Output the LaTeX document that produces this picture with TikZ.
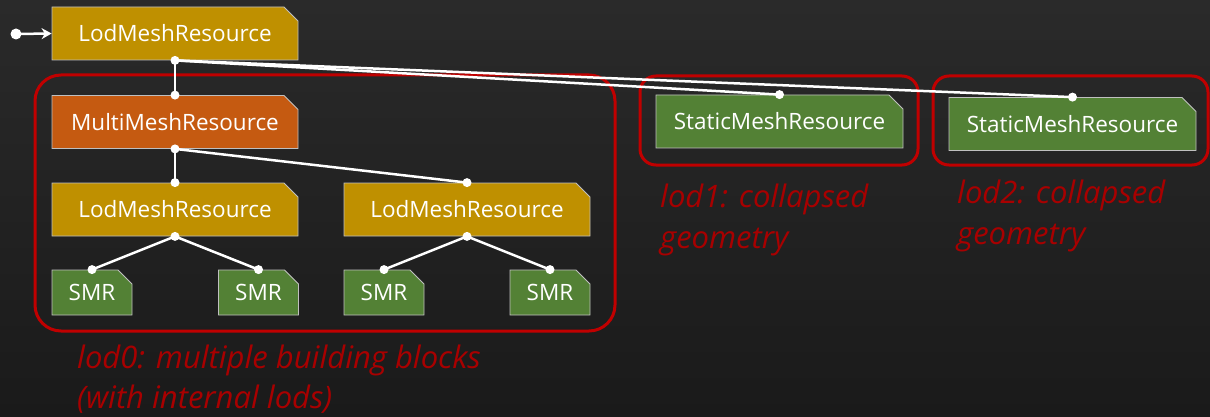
\documentclass[tikz,border=0pt]{standalone}
\usepackage{fontspec}
\setmainfont{Open Sans}
\usetikzlibrary{shapes.misc,arrows.meta}
\definecolor{bgtop}{HTML}{2A2A2A}
\definecolor{bgbot}{HTML}{1A1A1A}
\definecolor{gold}{HTML}{BF9000}
\definecolor{rust}{HTML}{C55A11}
\definecolor{leaf}{HTML}{538135}
\definecolor{frame}{HTML}{C00000}
\definecolor{note}{HTML}{A80000}
\tikzset{
  res/.style={chamfered rectangle, chamfered rectangle corners=north east,
    chamfered rectangle xsep=7pt, chamfered rectangle ysep=7pt,
    draw=white!75!black, line width=0.8pt, text=white, inner sep=0pt,
    font=\fontsize{22.5}{26}\selectfont, minimum height=53pt},
  big/.style={res, minimum width=246pt},
  small/.style={res, minimum width=80pt, minimum height=45pt},
  conn/.style={draw=white, line width=2.5pt},
  dot/.style={fill=white},
  grp/.style={draw=frame, line width=3pt, rounded corners=26pt},
  lbl/.style={text=note, font=\fontsize{31}{34}\selectfont\itshape, anchor=base west, inner sep=0pt}
}
\begin{document}
\begin{tikzpicture}[x=1pt,y=-1pt]
\shade[top color=bgtop, bottom color=bgbot] (0,0) rectangle (1210,417);
\useasboundingbox (0,0) rectangle (1210,417);

% groups
\draw[grp] (35,75) rectangle (615,331);
\draw[grp, rounded corners=16pt] (640,76) rectangle (918,165);
\draw[grp, rounded corners=16pt] (933,76) rectangle (1208,165);

% nodes
\node[big, fill=gold] (top) at (175,33.5) {LodMeshResource};
\node[big, fill=rust] (mm) at (175,122) {MultiMeshResource};
\node[big, fill=gold] (la) at (175,209.5) {LodMeshResource};
\node[big, fill=gold] (lb) at (467,209.5) {LodMeshResource};
\node[small, fill=leaf] (s1) at (92,292.5) {SMR};
\node[small, fill=leaf] (s2) at (258.5,292.5) {SMR};
\node[small, fill=leaf] (s3) at (384,292.5) {SMR};
\node[small, fill=leaf] (s4) at (550,292.5) {SMR};
\node[big, fill=leaf, minimum width=247pt] (st1) at (779.5,121.5) {StaticMeshResource};
\node[big, fill=leaf, minimum width=247pt] (st2) at (1072.5,124) {StaticMeshResource};

% entry
\coordinate (entry) at (16,34);
\draw[conn, -{Stealth[length=10pt,width=11pt]}] (entry) -- (top.west);
\fill[dot] (entry) circle (5.5pt);

% connectors
\draw[conn] (top.south) -- (mm.north);
\draw[conn] (top.south) -- (st1.north);
\draw[conn] (top.south) -- (st2.north);
\draw[conn] (mm.south) -- (la.north);
\draw[conn] (mm.south) -- (lb.north);
\draw[conn] (la.south) -- (s1.north);
\draw[conn] (la.south) -- (s2.north);
\draw[conn] (lb.south) -- (s3.north);
\draw[conn] (lb.south) -- (s4.north);
\foreach \p in {top.south,mm.north,mm.south,la.north,la.south,lb.north,lb.south,s1.north,s2.north,s3.north,s4.north,st1.north,st2.north}
  \fill[dot] (\p) circle (4.5pt);

% labels
\node[lbl] (n0a) at (77,368) {lod0: multiple building blocks};
\node[lbl] (n0b) at (77,408.5) {(with internal lods)};
\node[lbl] (n1a) at (660,207) {lod1: collapsed};
\node[lbl] (n1b) at (660,248) {geometry};
\node[lbl] (n2a) at (957,203) {lod2: collapsed};
\node[lbl] (n2b) at (957,244) {geometry};
\end{tikzpicture}
\end{document}
